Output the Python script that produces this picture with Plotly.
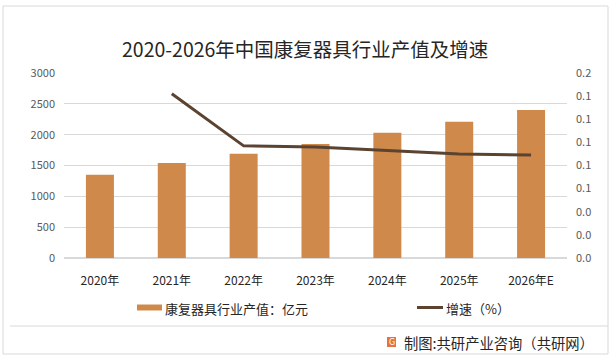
import plotly.graph_objects as go

# ---- data ----
years = ["2020年", "2021年", "2022年", "2023年", "2024年", "2025年", "2026年E"]
output_value = [1350, 1540, 1690, 1850, 2030, 2210, 2400]   # 亿元
growth_rate = [None, 0.142, 0.097, 0.096, 0.093, 0.090, 0.089]
title_text = "2020-2026年中国康复器具行业产值及增速"
bar_name = "康复器具行业产值：亿元"
line_name = "增速（%）"
footer_text = "制图:共研产业咨询（共研网）"

W, H = 616, 360
ML, MR, MT, MB = 64, 49, 73, 102
PW, PH = W - ML - MR, H - MT - MB
FONT = "Noto Sans CJK SC"
BAR_COLOR = "#CF8A4B"
LINE_COLOR = "#5B4332"


def px(x):
    return (x - ML) / PW


def py(y):
    return (H - MB - y) / PH


fig = go.Figure()
fig.add_trace(go.Bar(x=years, y=output_value, name=bar_name,
                     marker=dict(color=BAR_COLOR, line=dict(width=0)),
                     yaxis="y"))
fig.add_trace(go.Scatter(x=years, y=growth_rate, name=line_name, mode="lines",
                         line=dict(color=LINE_COLOR, width=3),
                         yaxis="y2", connectgaps=False))

shapes = [
    # outer frame
    dict(type="rect", xref="paper", yref="paper", x0=px(3), x1=px(608), y0=py(354), y1=py(6),
         line=dict(color="#D9D9D9", width=1), layer="below"),
    # inner divider line
    dict(type="line", xref="paper", yref="paper", x0=px(10), x1=px(608), y0=py(326), y1=py(326),
         line=dict(color="#D9D9D9", width=1)),
    # legend symbols
    dict(type="rect", xref="paper", yref="paper", x0=px(137), x1=px(162), y0=py(310.5), y1=py(304.5),
         line=dict(width=0), fillcolor=BAR_COLOR),
    dict(type="line", xref="paper", yref="paper", x0=px(417), x1=px(443), y0=py(307.5), y1=py(307.5),
         line=dict(color=LINE_COLOR, width=3)),
    # footer icon
    dict(type="rect", xref="paper", yref="paper", x0=px(387), x1=px(396), y0=py(347), y1=py(337),
         line=dict(width=0), fillcolor="#E8733A"),
]

annotations = [
    dict(text=title_text, xref="paper", yref="paper", x=px(305), y=py(48),
         xanchor="center", yanchor="middle", showarrow=False,
         font=dict(family=FONT, size=19.5, color="#262626")),
    dict(text=bar_name, xref="paper", yref="paper", x=px(163), y=py(308),
         xanchor="left", yanchor="middle", showarrow=False,
         font=dict(family=FONT, size=13, color="#262626")),
    dict(text=line_name, xref="paper", yref="paper", x=px(444), y=py(308),
         xanchor="left", yanchor="middle", showarrow=False,
         font=dict(family=FONT, size=13, color="#262626")),
    dict(text="G", xref="paper", yref="paper", x=px(391.5), y=py(342),
         xanchor="center", yanchor="middle", showarrow=False,
         font=dict(family="DejaVu Sans", size=8, color="white")),
    dict(text=footer_text, xref="paper", yref="paper", x=px(402), y=py(342),
         xanchor="left", yanchor="middle", showarrow=False,
         font=dict(family=FONT, size=14.3, color="#262626")),
]

fig.update_layout(
    width=W, height=H,
    margin=dict(l=ML, r=MR, t=MT, b=MB, pad=0),
    paper_bgcolor="white", plot_bgcolor="white",
    showlegend=False,
    bargap=0.61,
    font=dict(family=FONT, color="#595959"),
    xaxis=dict(type="category", showgrid=False, showline=False, zeroline=False,
               ticks="", tickfont=dict(family=FONT, size=12, color="#262626"),
               ticklabelstandoff=14),
    yaxis=dict(range=[0, 3000], dtick=500, showgrid=True, gridcolor="#D9D9D9",
               gridwidth=1, zeroline=True, zerolinecolor="#D9D9D9", showline=False,
               ticks="", tickfont=dict(family=FONT, size=11, color="#595959"),
               ticklabelstandoff=8),
    yaxis2=dict(range=[0, 0.16], dtick=0.02, tickformat=".1f", overlaying="y",
                side="right", showgrid=False, zeroline=False, showline=False,
                ticks="", tickfont=dict(family=FONT, size=11, color="#595959"),
                ticklabelstandoff=8),
    shapes=shapes,
    annotations=annotations,
)

fig.write_html("out.html", config={"displayModeBar": False},
               post_script="document.body.style.margin='0';document.body.style.overflow='hidden';")
